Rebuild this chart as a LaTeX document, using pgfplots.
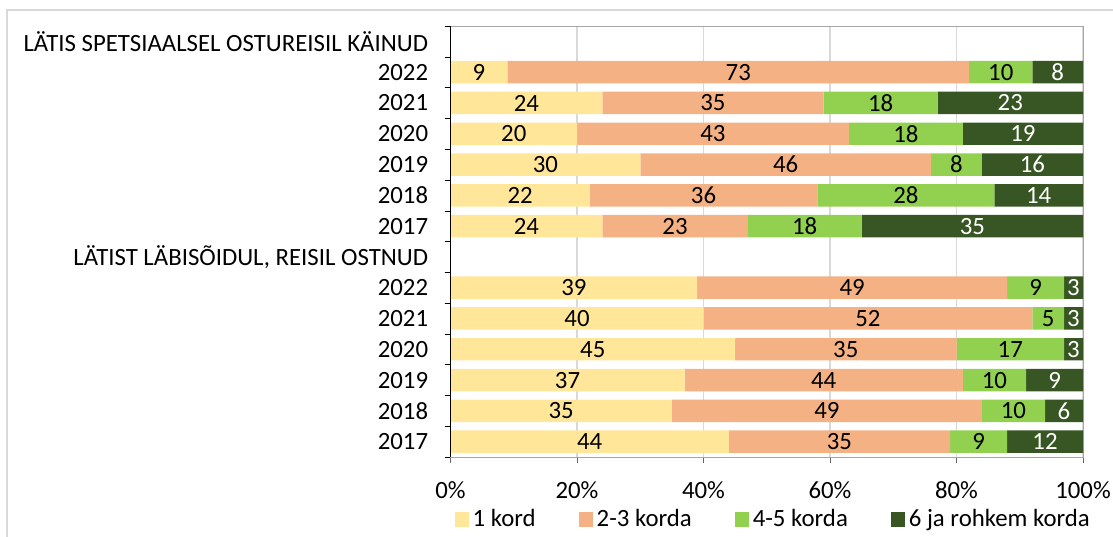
\documentclass[border=0pt]{standalone}
\usepackage{pgfplots}
\pgfplotsset{compat=1.18}
\usepackage{pgfplotstable}
\usepackage{fontspec}
\setmainfont{Carlito}
\definecolor{c1}{HTML}{FFE699}
\definecolor{c2}{HTML}{F4B183}
\definecolor{c3}{HTML}{92D050}
\definecolor{c4}{HTML}{375623}
\pgfplotstableread{
y a b c d
1 9 73 10 8
2 24 35 18 23
3 20 43 18 19
4 30 46 8 16
5 22 36 28 14
6 24 23 18 35
8 39 49 9 3
9 40 52 5 3
10 45 35 17 3
11 37 44 10 9
12 35 49 10 6
13 44 35 9 12
}\data
\begin{document}
\begin{tikzpicture}[font=\fontsize{12.4pt}{14pt}\selectfont]
\useasboundingbox (0,0) rectangle (556.5pt,268pt);
\draw[gray!30, line width=0.7pt] (3.5pt,-10pt) -- (3.5pt,263pt) -- (580pt,263pt);
\begin{axis}[
  at={(225.25pt,39.5pt)}, anchor=south west,
  scale only axis, width=316.25pt, height=215.5pt,
  xbar stacked, bar width=0.73,
  xmin=0, xmax=100, ymin=-0.5, ymax=13.5, y dir=reverse,
  axis line style={draw=gray!70},
  xtick={0,20,...,100},
  xticklabel={\pgfmathprintnumber{\tick}\%},
  /pgf/number format/assume math mode=true,
  xtick pos=bottom, ytick pos=left,
  tick align=outside, major tick length=3pt,
  x tick style={gray!80!black},
  y tick style={black},
  xmajorgrids, grid style={gray!30, line width=0.7pt},
  ytick={-0.5,0.5,...,13.5},
  yticklabels={LÄTIS SPETSIAALSEL OSTUREISIL KÄINUD,2022,2021,2020,2019,2018,2017,{LÄTIST LÄBISÕIDUL, REISIL OSTNUD},2022,2021,2020,2019,2018,2017,{}},
  y tick label style={anchor=east, inner sep=0pt, yshift=-7.7pt, xshift=-8pt},
  x tick label style={anchor=north, inner sep=0pt, yshift=-9pt},
  legend columns=4,
  legend style={draw=none, at={(0.5,0)}, anchor=center, yshift=-31pt, xshift=3.75pt,
    /tikz/every even column/.append style={column sep=19.5pt}},
  legend image code/.code={\fill[#1] (0pt,-3.75pt) rectangle (7pt,3.75pt);},
  point meta=explicit symbolic,
  nodes near coords={\pgfplotspointmeta},
  every node near coord/.append style={anchor=center, inner sep=0pt, text=black},
]
\addplot[fill=c1, draw=none] table[x=a,y=y,meta=a]{\data};
\addplot[fill=c2, draw=none] table[x=b,y=y,meta=b]{\data};
\addplot[fill=c3, draw=none] table[x=c,y=y,meta=c]{\data};
\addplot[fill=c4, draw=none, every node near coord/.append style={text=white}] table[x=d,y=y,meta=d]{\data};
\legend{1 kord,2-3 korda,4-5 korda,6 ja rohkem korda}
\end{axis}
\draw[black, line width=0.6pt] (225.25pt,39.5pt) -- (225.25pt,255pt);
\end{tikzpicture}
\end{document}
